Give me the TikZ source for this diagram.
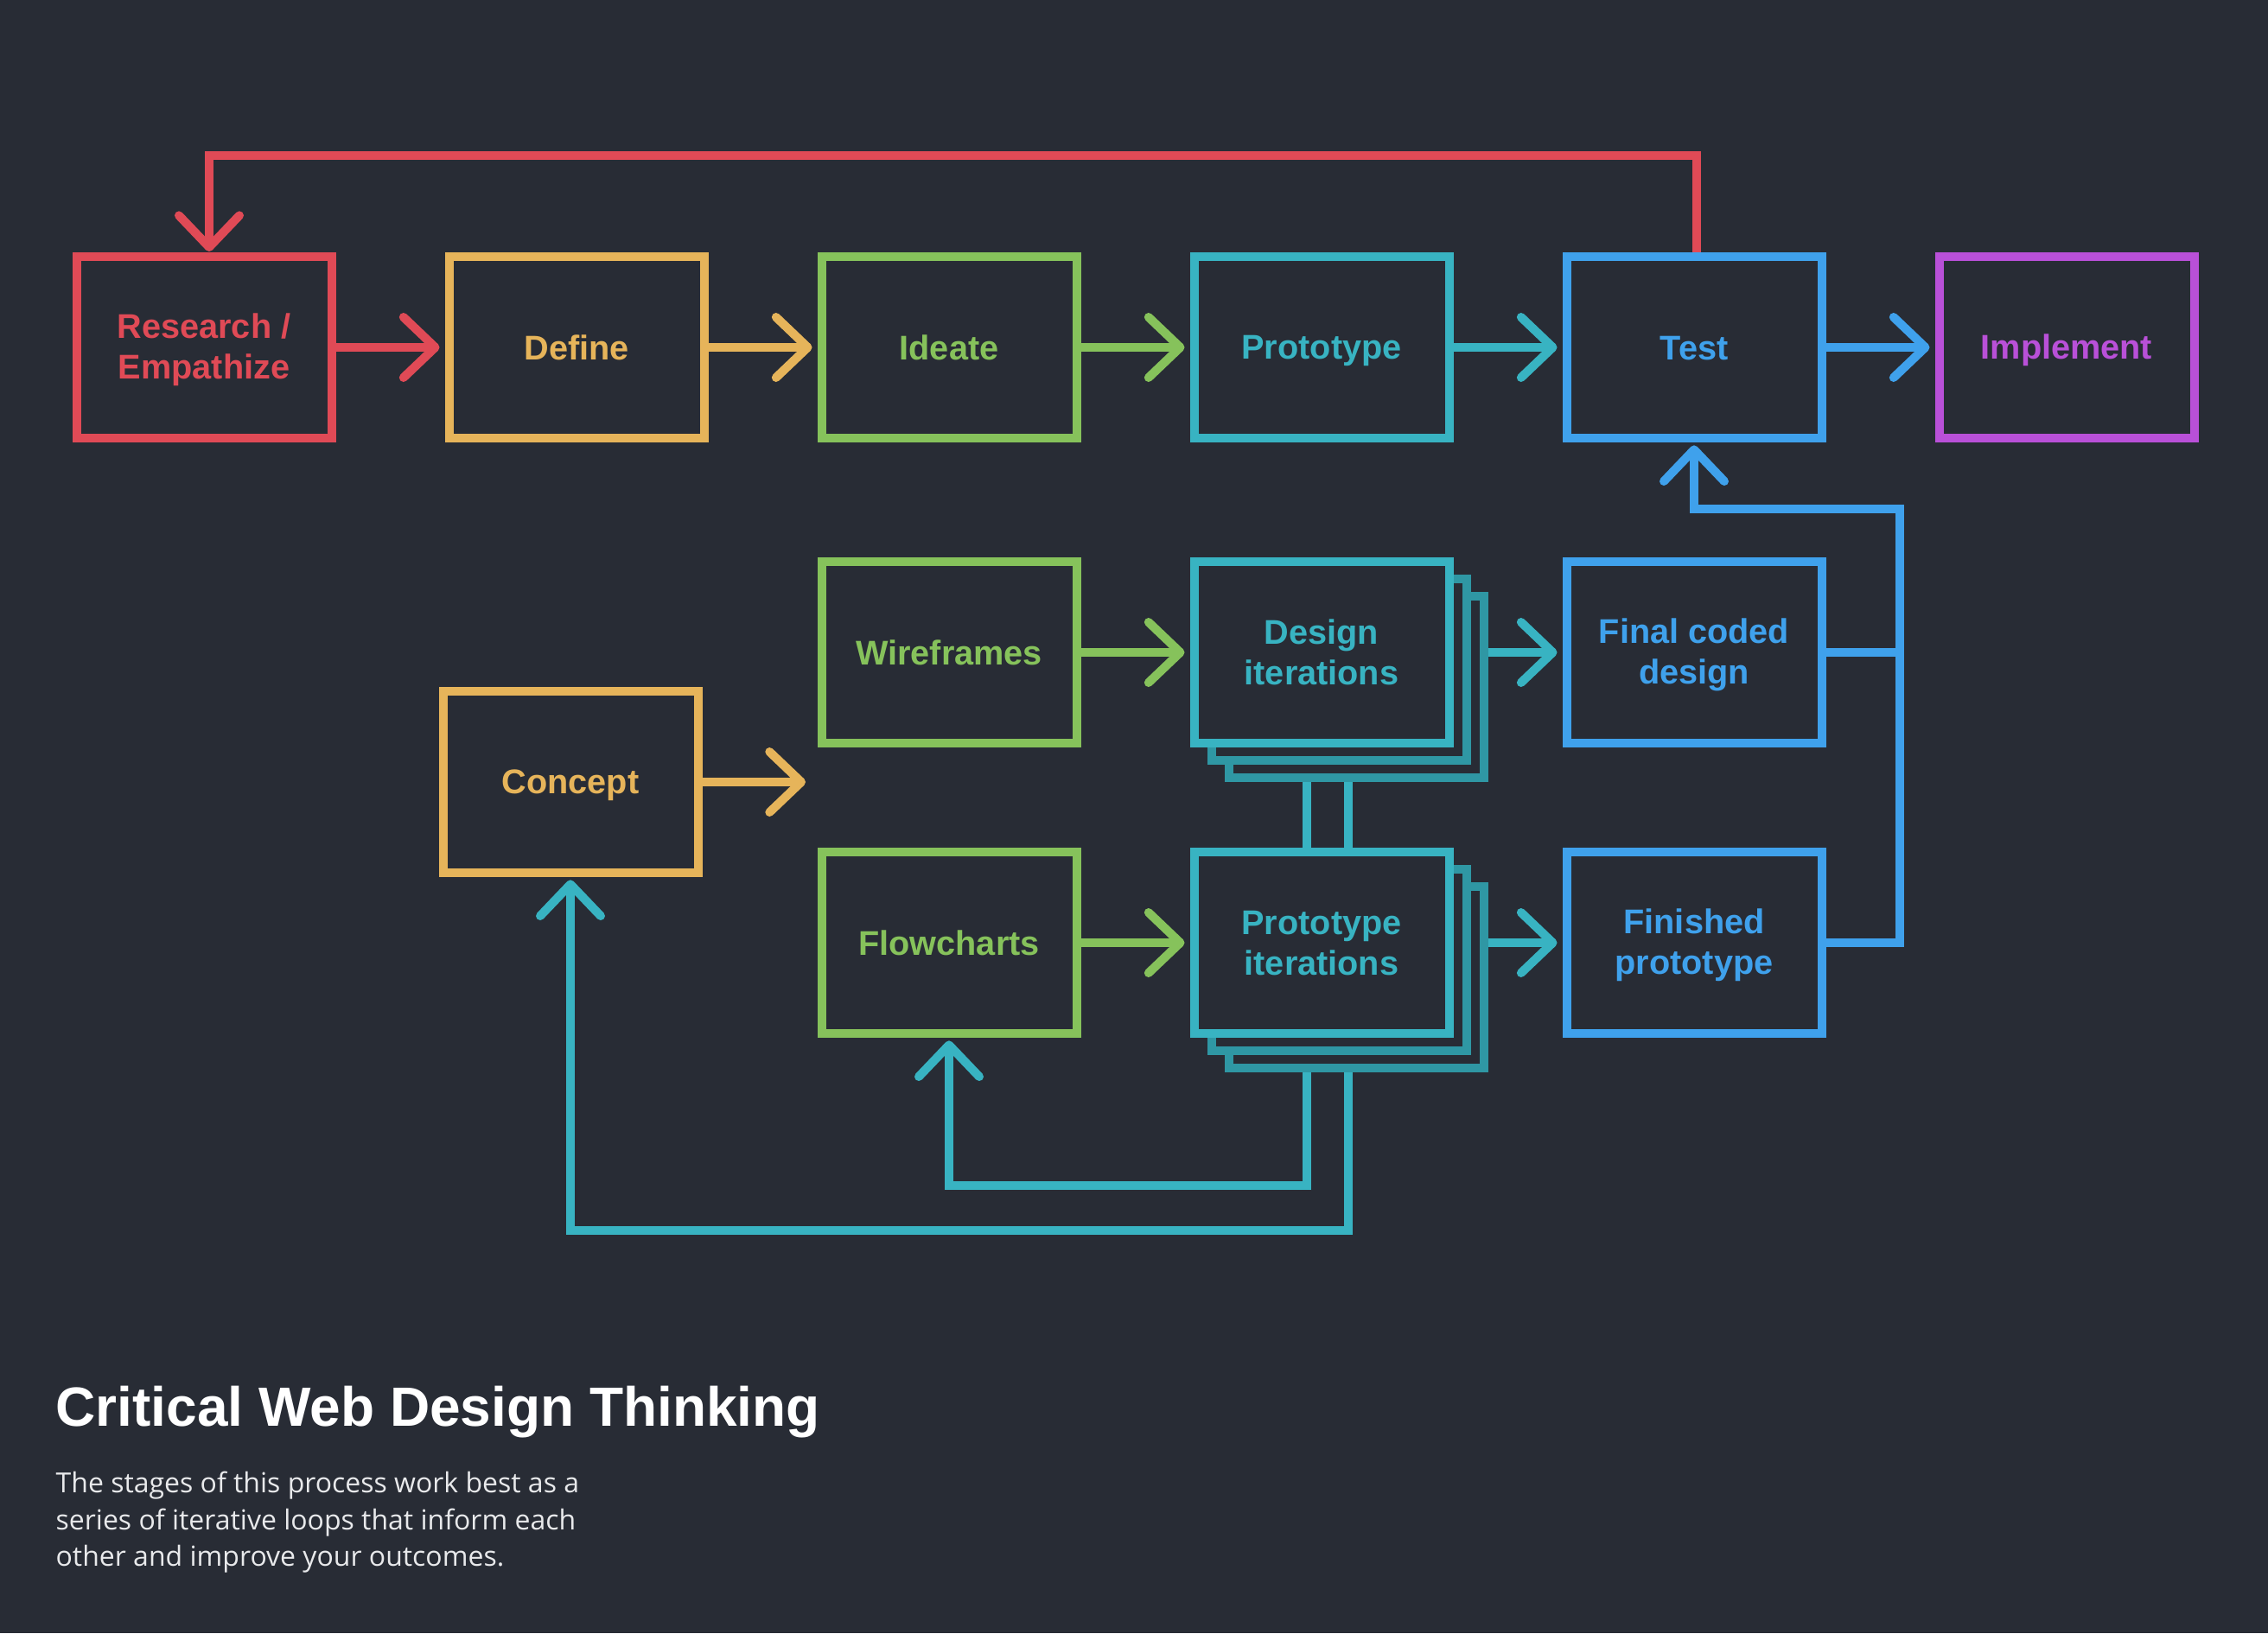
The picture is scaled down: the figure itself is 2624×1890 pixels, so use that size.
\documentclass[tikz,border=0pt]{standalone}
\usepackage{fontspec}
\setmainfont{Liberation Sans}
\newfontfamily\bodyfont{Open Sans}
\usetikzlibrary{arrows.meta}
\definecolor{bg}{HTML}{282C35}
\definecolor{cred}{HTML}{E04A56}
\definecolor{cyel}{HTML}{E6B45A}
\definecolor{cgrn}{HTML}{86C25B}
\definecolor{cteal}{HTML}{38B3C2}
\definecolor{cteald}{HTML}{2F97A4}
\definecolor{cblue}{HTML}{3FA1EC}
\definecolor{cpur}{HTML}{B950D8}
\definecolor{ctext}{HTML}{E8E9EB}
\newcommand\lstrut{\vrule width 0pt height 10.5pt depth 2pt\relax}
\begin{document}
\begin{tikzpicture}[x=0.3pt,y=-0.3pt,
  stage/.style={draw=#1, text=#1, fill=bg, line width=3pt, minimum width=88.5pt, minimum height=63pt, inner sep=0pt, align=center, font=\fontsize{11.9}{14.1}\selectfont\bfseries},
  backbox/.style={draw=cteald, fill=bg, line width=3pt, minimum width=88.5pt, minimum height=63pt, inner sep=0pt},
  flow/.style={draw=#1, line width=3pt, -{Straight Barb[length=11pt,width=21pt,round]}, shorten >=1.8pt},
  link/.style={draw=#1, line width=3pt},
  bodytext/.style={anchor=base west, inner sep=0pt, text=ctext, font=\bodyfont\fontsize{9.6}{12}\selectfont}
]
\path[use as bounding box, fill=bg] (0,0) rectangle (2624,1890);

% top row
\node[stage=cred] (R) at (236,402) {\lstrut Research /\\\lstrut Empathize};
\node[stage=cyel] (D) at (667,402) {\lstrut Define};
\node[stage=cgrn] (I) at (1098,402) {\lstrut Ideate};
\node[stage=cteal] (P) at (1529,402) {\lstrut Prototype};
\node[stage=cblue] (T) at (1960,402) {\lstrut Test};
\node[stage=cpur] (M) at (2391,402) {\lstrut Implement};

% middle rows
\node[stage=cgrn] (W) at (1098,755) {\lstrut Wireframes};
\node[backbox] (DIc) at (1569,795) {};
\node[backbox] (DIb) at (1549,775) {};
\node[stage=cteal] (DI) at (1529,755) {\lstrut Design\\\lstrut iterations};
\node[stage=cblue] (FC) at (1960,755) {\lstrut Final coded\\\lstrut design};
\node[stage=cyel] (C) at (660,905) {\lstrut Concept};
\node[stage=cgrn] (FL) at (1098,1091) {\lstrut Flowcharts};
\node[backbox] (PIc) at (1569,1131) {};
\node[backbox] (PIb) at (1549,1111) {};
\node[stage=cteal] (PI) at (1529,1091) {\lstrut Prototype\\\lstrut iterations};
\node[stage=cblue] (FP) at (1960,1091) {\lstrut Finished\\\lstrut prototype};

% main flow
\draw[flow=cred] (R.east) -- (D.west);
\draw[flow=cyel] (D.east) -- (I.west);
\draw[flow=cgrn] (I.east) -- (P.west);
\draw[flow=cteal] (P.east) -- (T.west);
\draw[flow=cblue] (T.east) -- (M.west);
\draw[flow=cgrn] (W.east) -- (DI.west);
\draw[flow=cgrn] (FL.east) -- (PI.west);
\draw[flow=cteal] (DIc.east |- DI.east) -- (FC.west);
\draw[flow=cteal] (PIc.east |- PI.east) -- (FP.west);
\coordinate (cend) at (932,905);
\draw[flow=cyel, shorten >=0pt] (C.east) -- (cend);

% red feedback
\coordinate (rt) at (242,180);
\coordinate (tt) at (1963,180);
\draw[flow=cred, shorten >=0.3pt] (T.north -| tt) -- (tt) -- (rt) -- (rt |- R.north);

% blue feedback
\coordinate (bj) at (2198,589);
\draw[link=cblue] (FC.east) -- (FC.east -| bj);
\draw[flow=cblue, shorten >=1pt] (FP.east) -| (bj) -| (T.south);

% teal links
\coordinate (l1) at (1512,0);
\coordinate (l2) at (1560,0);
\draw[link=cteal] (DIc.south -| l1) -- (PI.north -| l1);
\draw[link=cteal] (DIc.south -| l2) -- (PI.north -| l2);
\coordinate (b1) at (1512,1372);
\coordinate (b2) at (1560,1424);
\draw[flow=cteal, shorten >=1pt] (PIc.south -| l1) -- (b1) -| (FL.south);
\draw[flow=cteal, shorten >=1pt] (PIc.south -| l2) -- (b2) -| (C.south);

% caption
\node[anchor=base west, inner sep=0pt, text=white, font=\fontsize{19.2}{23}\selectfont\bfseries] (title) at (64,1650) {Critical Web Design Thinking};
\node[bodytext] (body1) at (64,1727) {The stages of this process work best as a};
\node[bodytext] (body2) at (64,1770) {series of iterative loops that inform each};
\node[bodytext] (body3) at (64,1812) {other and improve your outcomes.};
\end{tikzpicture}
\end{document}
